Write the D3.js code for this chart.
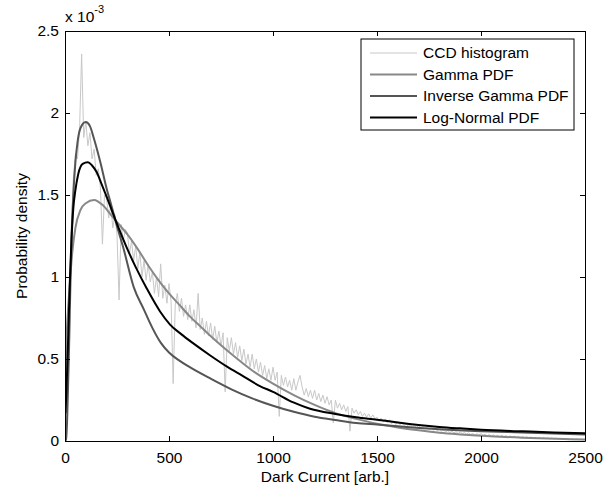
<!DOCTYPE html>
<html>
<head>
<meta charset="utf-8">
<script src="https://cdn.jsdelivr.net/npm/d3@7"></script>
<style>
  body { margin: 0; background: #fff; }
  text { font-family: "Liberation Sans", Arial, sans-serif; }
</style>
</head>
<body>
<svg id="chart"></svg>
<script>
// histogram (bin width 10, values in units of 1e-3)
const histStep = 10;
const histValues = [
  0.0, 0.35, 0.9, 1.3, 1.6, 1.75, 1.72, 1.9, 2.36, 1.85,
  1.95, 1.8, 1.88, 1.72, 1.78, 1.62, 1.66, 1.55, 1.2, 1.5,
  1.48, 1.36, 1.44, 1.3, 1.38, 1.26, 0.86, 1.32, 1.22, 1.29,
  1.27, 1.14, 1.22, 1.1, 1.19, 1.05, 1.15, 1.0, 1.1, 0.98,
  1.08, 0.97, 1.03, 0.9, 1.0, 0.88, 1.08, 0.87, 0.95, 0.84,
  0.96, 0.85, 0.35, 0.83, 0.9, 0.79, 0.87, 0.76, 0.83, 0.74,
  0.83, 0.73, 0.8, 0.69, 0.9, 0.68, 0.75, 0.65, 0.73, 0.64,
  0.72, 0.62, 0.7, 0.6, 0.67, 0.58, 0.66, 0.3, 0.63, 0.55,
  0.63, 0.53, 0.6, 0.51, 0.58, 0.49, 0.56, 0.47, 0.53, 0.45,
  0.53, 0.44, 0.5, 0.42, 0.48, 0.4, 0.46, 0.38, 0.44, 0.37,
  0.45, 0.37, 0.42, 0.15, 0.4, 0.34, 0.39, 0.33, 0.37, 0.31,
  0.38, 0.31, 0.36, 0.4, 0.33, 0.28, 0.32, 0.27, 0.31, 0.26,
  0.31, 0.25, 0.29, 0.24, 0.28, 0.23, 0.27, 0.22, 0.25, 0.11,
  0.25, 0.2, 0.23, 0.19, 0.22, 0.18, 0.21, 0.06, 0.2, 0.17,
  0.19, 0.16, 0.18, 0.15, 0.17, 0.145, 0.165, 0.14, 0.16, 0.135,
  0.145, 0.12, 0.14, 0.115, 0.135, 0.11, 0.13, 0.105, 0.12, 0.1,
  0.12, 0.1, 0.11, 0.095, 0.105, 0.09, 0.1, 0.085, 0.095, 0.08,
  0.095, 0.08, 0.09, 0.075, 0.085, 0.07, 0.08, 0.065, 0.075, 0.062,
  0.072, 0.06, 0.068, 0.055, 0.064, 0.052, 0.06, 0.05, 0.056, 0.046,
  0.055, 0.045, 0.052, 0.042, 0.05, 0.04, 0.046, 0.038, 0.044, 0.036,
  0.045, 0.035, 0.042, 0.032, 0.04, 0.03, 0.038, 0.028, 0.035, 0.027,
  0.035, 0.027, 0.033, 0.025, 0.031, 0.023, 0.03, 0.021, 0.028, 0.02,
  0.028, 0.02, 0.026, 0.018, 0.025, 0.017, 0.023, 0.016, 0.022, 0.015,
  0.022, 0.015, 0.02, 0.013, 0.019, 0.012, 0.018, 0.011, 0.017, 0.01,
  0.016, 0.01, 0.015, 0.009, 0.014, 0.008, 0.013, 0.007, 0.012, 0.006,
  0.01
];

const gammaX = [0, 5, 10, 20, 35, 50, 75, 100, 140, 180, 220, 260, 300, 350, 400, 450, 500, 550, 600, 650, 700, 800, 900, 1000, 1100, 1200, 1300, 1400, 1500, 1600, 1700, 1800, 1900, 2000, 2200, 2400, 2500];
const gammaY = [0, 0.55, 0.7, 0.9, 1.15, 1.3, 1.41, 1.45, 1.47, 1.44, 1.38, 1.32, 1.26, 1.17, 1.07, 0.98, 0.9, 0.83, 0.76, 0.7, 0.64, 0.53, 0.43, 0.35, 0.28, 0.22, 0.17, 0.135, 0.105, 0.083, 0.065, 0.05, 0.04, 0.032, 0.02, 0.012, 0.009];

const invGammaX = [0, 5, 10, 15, 20, 25, 30, 40, 50, 60, 75, 100, 120, 140, 170, 200, 220, 250, 280, 330, 380, 420, 460, 500, 550, 600, 700, 800, 900, 1000, 1100, 1200, 1300, 1400, 1500, 1600, 1800, 2000, 2200, 2500];
const invGammaY = [0, 0.01, 0.12, 0.35, 0.6, 0.9, 1.17, 1.5, 1.7, 1.82, 1.91, 1.945, 1.92, 1.84, 1.7, 1.54, 1.45, 1.31, 1.18, 0.94, 0.8, 0.69, 0.6, 0.54, 0.49, 0.45, 0.38, 0.315, 0.26, 0.215, 0.178, 0.148, 0.128, 0.11, 0.1, 0.09, 0.072, 0.06, 0.052, 0.04];

const logNormX = [2, 5, 10, 16, 24, 32, 40, 50, 64, 85, 110, 130, 152, 175, 200, 230, 264, 300, 340, 393, 457, 505, 560, 617, 700, 777, 850, 937, 1000, 1098, 1178, 1300, 1400, 1500, 1600, 1700, 1800, 1900, 2000, 2200, 2350, 2500];
const logNormY = [0.17, 0.25, 0.42, 0.66, 1.0, 1.25, 1.42, 1.53, 1.63, 1.69, 1.7, 1.68, 1.64, 1.57, 1.49, 1.39, 1.28, 1.17, 1.06, 0.93, 0.79, 0.71, 0.65, 0.595, 0.52, 0.455, 0.4, 0.335, 0.3, 0.235, 0.197, 0.165, 0.145, 0.13, 0.113, 0.098, 0.086, 0.077, 0.069, 0.059, 0.052, 0.047];

const xTicks = [0, 500, 1000, 1500, 2000, 2500];
const yTicks = [0, 0.5, 1, 1.5, 2, 2.5];
const legendLabels = ["CCD histogram", "Gamma PDF", "Inverse Gamma PDF", "Log-Normal PDF"];
const seriesColors = ["#c8c8c8", "#888888", "#555555", "#000000"];
const seriesWidths = [1, 2, 2, 2];

const margin = { top: 31, right: 25, bottom: 44, left: 65 };
const W = 610, H = 485;
const width = W - margin.left - margin.right;
const height = H - margin.top - margin.bottom;
const fontSize = "15.5px";

const svg = d3.select("#chart").attr("width", W).attr("height", H);
svg.append("rect").attr("width", W).attr("height", H).attr("fill", "#fff");

const g = svg.append("g").attr("transform", `translate(${margin.left},${margin.top})`);

const x = d3.scaleLinear().domain([0, 2500]).range([0, width]);
const y = d3.scaleLinear().domain([0, 2.5]).range([height, 0]);

g.append("defs").append("clipPath").attr("id", "clip")
  .append("rect").attr("width", width).attr("height", height);

const plot = g.append("g").attr("clip-path", "url(#clip)");

const histData = histValues.map((v, i) => [i * histStep, v]);
const zip = (xs, ys) => xs.map((d, i) => [d, ys[i]]);
const series = [
  histData,
  zip(gammaX, gammaY),
  zip(invGammaX, invGammaY),
  zip(logNormX, logNormY)
];

series.forEach((data, i) => {
  const line = d3.line()
    .x(d => x(d[0]))
    .y(d => y(d[1]))
    .curve(i === 0 ? d3.curveLinear : d3.curveMonotoneX);
  plot.append("path")
    .datum(data)
    .attr("fill", "none")
    .attr("stroke", seriesColors[i])
    .attr("stroke-width", seriesWidths[i])
    .attr("stroke-linejoin", "round")
    .attr("d", line);
});

// axes (ticks pointing inward, mirrored on top and right)
const tickLen = 5;
const bottomAxis = g.append("g")
  .attr("transform", `translate(0,${height})`)
  .call(d3.axisBottom(x).tickValues(xTicks).tickSizeInner(-tickLen).tickSizeOuter(0).tickPadding(11)
    .tickFormat(d => String(d)));
const topAxis = g.append("g")
  .call(d3.axisTop(x).tickValues(xTicks).tickSizeInner(-tickLen).tickSizeOuter(0).tickFormat(""));
const leftAxis = g.append("g")
  .call(d3.axisLeft(y).tickValues(yTicks).tickSizeInner(-tickLen).tickSizeOuter(0).tickPadding(6)
    .tickFormat(d => String(d)));
const rightAxis = g.append("g")
  .attr("transform", `translate(${width},0)`)
  .call(d3.axisRight(y).tickValues(yTicks).tickSizeInner(-tickLen).tickSizeOuter(0).tickFormat(""));

[bottomAxis, topAxis, leftAxis, rightAxis].forEach(a => {
  a.selectAll("path").attr("stroke", "#000");
  a.selectAll("line").attr("stroke", "#000");
  a.selectAll("text").attr("fill", "#000").style("font-size", fontSize);
});

// exponent label
const expo = g.append("text")
  .attr("x", 0).attr("y", -9)
  .style("font-size", fontSize)
  .attr("fill", "#000");
expo.append("tspan").text("x 10");
expo.append("tspan").attr("dy", -9).style("font-size", "11px").text("-3");

// axis labels
g.append("text")
  .attr("x", width / 2).attr("y", height + 41)
  .attr("text-anchor", "middle")
  .style("font-size", fontSize)
  .text("Dark Current [arb.]");

g.append("text")
  .attr("transform", "rotate(-90)")
  .attr("x", -height / 2).attr("y", -38)
  .attr("text-anchor", "middle")
  .style("font-size", fontSize)
  .text("Probability density");

// legend
const legend = svg.append("g").attr("transform", "translate(361,39)");
legend.append("rect")
  .attr("width", 213).attr("height", 91)
  .attr("fill", "#fff").attr("stroke", "#000").attr("stroke-width", 1);
legendLabels.forEach((lab, i) => {
  const yy = 14 + i * 21.5;
  legend.append("line")
    .attr("x1", 9).attr("x2", 56).attr("y1", yy).attr("y2", yy)
    .attr("stroke", seriesColors[i]).attr("stroke-width", seriesWidths[i]);
  legend.append("text")
    .attr("x", 62).attr("y", yy).attr("dy", "0.35em")
    .style("font-size", fontSize)
    .text(lab);
});
</script>
</body>
</html>
